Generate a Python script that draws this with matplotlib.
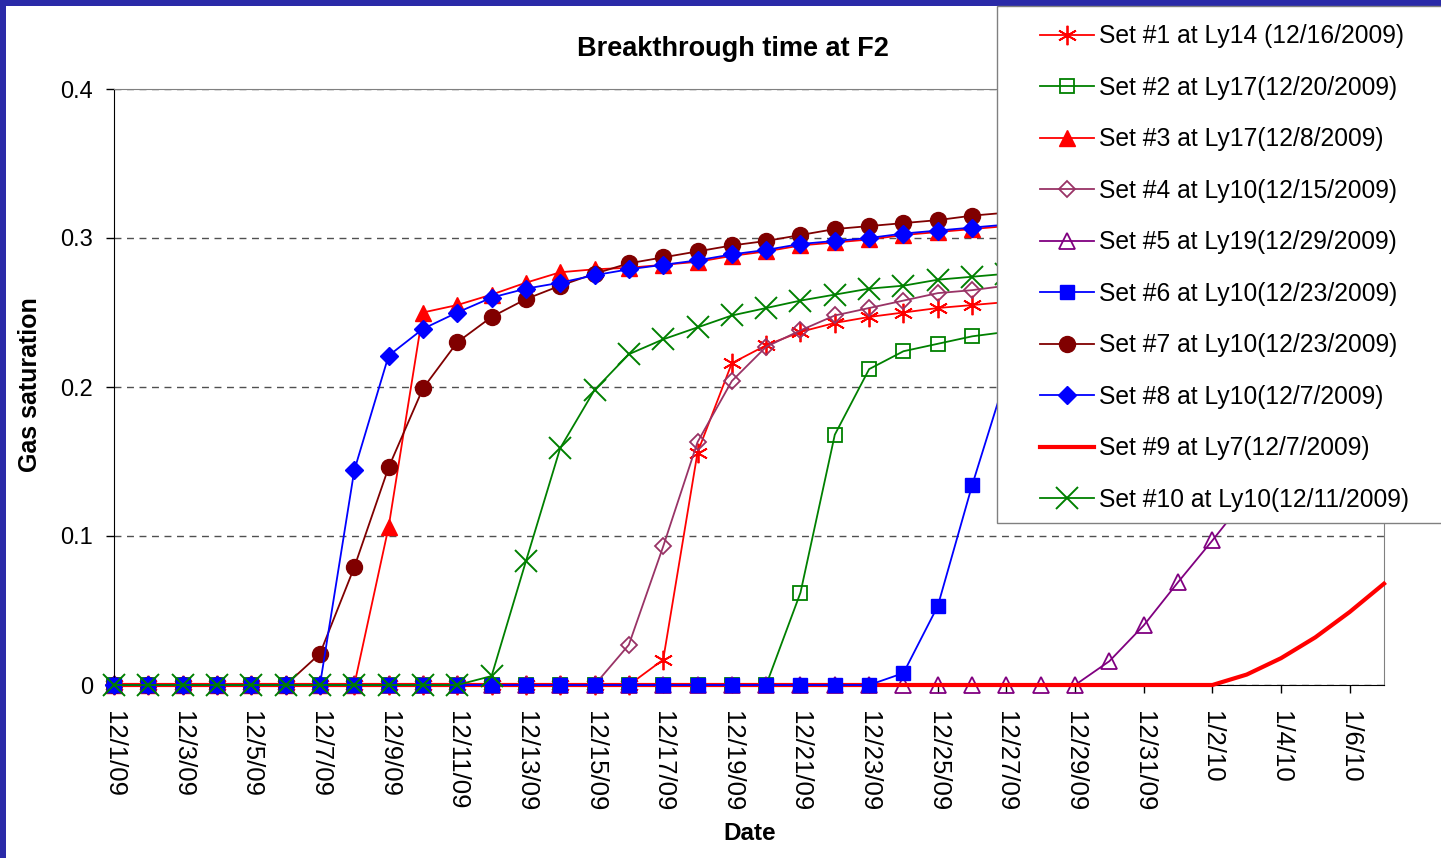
import matplotlib
matplotlib.use("Agg")
import matplotlib.pyplot as plt
import matplotlib.dates as mdates
from matplotlib.patches import Rectangle
from matplotlib.ticker import FuncFormatter
import numpy as np

plt.rcParams['font.family'] = ['Liberation Sans', 'DejaVu Sans']

# one value per day, 12/1/2009 .. 1/7/2010
dates = np.arange(np.datetime64('2009-12-01'), np.datetime64('2010-01-08'), np.timedelta64(1, 'D'))

set1 = [0.0] * 16 + [0.017, 0.156, 0.216, 0.228, 0.237, 0.243, 0.247, 0.250, 0.253, 0.255, 0.257,
                     0.259, 0.261, 0.262, 0.264, 0.265, 0.266, 0.267, 0.268, 0.269, 0.270, 0.271]
set2 = [0.0] * 20 + [0.062, 0.168, 0.212, 0.224, 0.229, 0.234, 0.237, 0.240, 0.243, 0.245, 0.247,
                     0.249, 0.251, 0.253, 0.254, 0.256, 0.257, 0.258]
set3 = [0.0] * 8 + [0.106, 0.250, 0.255, 0.262, 0.270, 0.277, 0.279, 0.280, 0.282, 0.284, 0.288,
                    0.291, 0.295, 0.297, 0.299, 0.302, 0.304, 0.306, 0.308, 0.310, 0.311, 0.313,
                    0.314, 0.316, 0.317, 0.318, 0.319, 0.320, 0.321, 0.322]
set4 = [0.0] * 15 + [0.027, 0.093, 0.163, 0.204, 0.227, 0.238, 0.248, 0.253, 0.258, 0.263, 0.265,
                     0.268, 0.270, 0.272, 0.274, 0.276, 0.277, 0.279, 0.280, 0.281, 0.282, 0.283,
                     0.284]
set5 = [0.0] * 29 + [0.016, 0.040, 0.069, 0.097, 0.126, 0.152, 0.175, 0.194, 0.209]
set6 = [0.0] * 23 + [0.008, 0.053, 0.134, 0.208, 0.245, 0.262, 0.272, 0.279, 0.284, 0.288, 0.291,
                     0.294, 0.296, 0.298, 0.300]
set7 = [0.0] * 6 + [0.021, 0.079, 0.146, 0.199, 0.230, 0.247, 0.259, 0.268, 0.276, 0.283, 0.287,
                    0.291, 0.295, 0.298, 0.302, 0.306, 0.308, 0.310, 0.312, 0.315, 0.317, 0.319,
                    0.321, 0.322, 0.324, 0.325, 0.327, 0.328, 0.329, 0.330, 0.331, 0.332]
set8 = [0.0] * 7 + [0.144, 0.221, 0.239, 0.250, 0.260, 0.266, 0.270, 0.275, 0.279, 0.282, 0.285,
                    0.289, 0.292, 0.296, 0.298, 0.300, 0.303, 0.305, 0.307, 0.309, 0.311, 0.313,
                    0.315, 0.316, 0.318, 0.319, 0.320, 0.321, 0.322, 0.323, 0.324]
set9 = [0.0] * 33 + [0.007, 0.018, 0.032, 0.049, 0.068]
set10 = [0.0] * 11 + [0.006, 0.083, 0.159, 0.198, 0.222, 0.232, 0.240, 0.248, 0.253, 0.258, 0.262,
                      0.266, 0.268, 0.272, 0.274, 0.276, 0.278, 0.280, 0.282, 0.283, 0.285, 0.286,
                      0.287, 0.288, 0.289, 0.290, 0.291]

labels = ['Set #1 at Ly14 (12/16/2009)', 'Set #2 at Ly17(12/20/2009)', 'Set #3 at Ly17(12/8/2009)',
          'Set #4 at Ly10(12/15/2009)', 'Set #5 at Ly19(12/29/2009)', 'Set #6 at Ly10(12/23/2009)',
          'Set #7 at Ly10(12/23/2009)', 'Set #8 at Ly10(12/7/2009)', 'Set #9 at Ly7(12/7/2009)',
          'Set #10 at Ly10(12/11/2009)']
yticks = [0, 0.1, 0.2, 0.3, 0.4]
ytick_labels = ['0', '0.1', '0.2', '0.3', '0.4']

W, H = 1441, 858
fig = plt.figure(figsize=(W / 100, H / 100), dpi=100, facecolor='#2a2aa8')
fig.patches.append(Rectangle((6 / W, 0), 1, 1 - 6 / H, transform=fig.transFigure,
                             facecolor='white', edgecolor='none', zorder=-10))
ax = fig.add_axes([114 / W, 1 - 685 / H, (1384 - 114) / W, (685 - 89) / H])
ax.set_facecolor('white')

lw = 1.3
h = {}
h[1] = ax.plot(dates, set1, color='red', lw=lw, marker=(6, 2, 0), ms=14, mew=1.3, zorder=2)[0]
h[2] = ax.plot(dates, set2, color='green', lw=lw, marker='s', ms=10, mfc='none', mew=1.3, zorder=2)[0]
h[3] = ax.plot(dates, set3, color='red', lw=lw, marker='^', ms=12, zorder=2)[0]
h[4] = ax.plot(dates, set4, color='#993366', lw=lw, marker='D', ms=8.5, mfc='none', mew=1.3, zorder=2)[0]
h[5] = ax.plot(dates, set5, color='#800080', lw=lw, marker='^', ms=12, mfc='none', mew=1.3, zorder=2)[0]
h[6] = ax.plot(dates, set6, color='blue', lw=lw, marker='s', ms=10.5, zorder=3.2)[0]
h[7] = ax.plot(dates, set7, color='#800000', lw=lw, marker='o', ms=11.5, zorder=2.1)[0]
h[8] = ax.plot(dates, set8, color='blue', lw=lw, marker='D', ms=9, zorder=2.2)[0]
h[9] = ax.plot(dates, set9, color='red', lw=3, zorder=3.1)[0]
h[10] = ax.plot(dates, set10, color='green', lw=lw, marker='x', ms=16, mew=1.4, zorder=3.3)[0]
for k in h:
    h[k].set_clip_on(False)

ax.set_xlim(np.datetime64('2009-12-01'), np.datetime64('2010-01-07'))
ax.set_ylim(0, 0.4)
ax.set_yticks(yticks)
ax.set_yticklabels(ytick_labels)
ax.set_xticks(dates[::2])
ax.xaxis.set_major_formatter(FuncFormatter(
    lambda v, p: (lambda d: f"{d.month}/{d.day}/{d:%y}")(mdates.num2date(v))))
ax.tick_params(axis='both', direction='out', length=6, width=1)
ax.tick_params(axis='y', pad=9, labelsize=17)
ax.tick_params(axis='x', pad=13, labelrotation=270, labelsize=18.5)
for t in ax.get_xticklabels():
    t.set_ha('center')
    t.set_va('top')
ax.yaxis.grid(True, linestyle=(0, (5, 4)), color='#505050', lw=1)
ax.set_axisbelow(True)
ax.spines['left'].set_color('black')
ax.spines['bottom'].set_color('black')
ax.spines['top'].set_color('#808080')
ax.spines['right'].set_color('#808080')

fig.text(733 / W, 1 - 49 / H, 'Breakthrough time at F2', ha='center', va='center',
         fontsize=19.5, fontweight='bold')
fig.text(750 / W, 1 - 833 / H, 'Date', ha='center', va='center', fontsize=17.5, fontweight='bold')
fig.text(30 / W, 1 - 385 / H, 'Gas saturation', ha='center', va='center', rotation=90,
         fontsize=18, fontweight='bold')

# legend box, running off the right edge
fig.patches.append(Rectangle((997 / W, 1 - 523 / H), 1, (523 - 6) / H, transform=fig.transFigure,
                             facecolor='white', edgecolor='#808080', lw=1, zorder=4))
leg = fig.legend([h[k] for k in range(1, 11)], labels, loc='upper left',
                 bbox_to_anchor=(1018 / W, 1 - 2 / H), frameon=False, fontsize=17.7,
                 handlelength=2.2, handletextpad=0.2, labelspacing=1.12, borderpad=0.4)
leg.set_zorder(5)

fig.savefig('out.png', dpi=100, facecolor=fig.get_facecolor())
